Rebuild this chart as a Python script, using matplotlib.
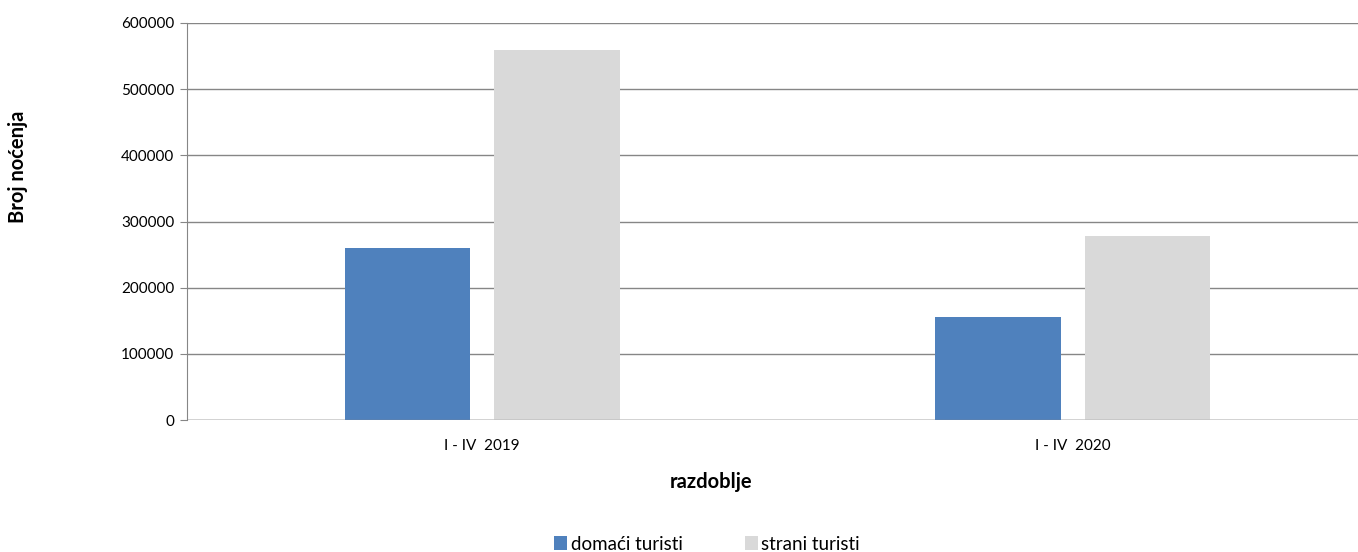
import numpy as np
import matplotlib
matplotlib.use("Agg")
import matplotlib.pyplot as plt
from matplotlib.patches import Patch

periods = ["I - IV  2019", "I - IV  2020"]
domaci = [259500, 155000]
strani = [559500, 278000]
series_names = ["domaći turisti", "strani turisti"]
colors = ["#4F81BD", "#D9D9D9"]

plt.rcParams['font.family'] = ['Lato', 'DejaVu Sans']

fig = plt.figure(figsize=(13.58, 5.52), dpi=100)
# plot area: x 187..1368 px, y 23..420 px
ax = fig.add_axes([187 / 1358, 1 - 420 / 552, 1181 / 1358, 397 / 552])

x = np.arange(len(periods))
w = 0.213
gap = 0.04
ax.bar(x - (w + gap) / 2, domaci, w, color=colors[0], zorder=3)
ax.bar(x + (w + gap) / 2, strani, w, color=colors[1], zorder=3)

ax.set_xlim(-0.5, 1.5)
ax.set_ylim(0, 600000)
ax.set_yticks(range(0, 600001, 100000))
ax.yaxis.set_major_formatter(matplotlib.ticker.FuncFormatter(lambda v, p: f"{int(v)}"))
ax.set_xticks(x)
ax.set_xticklabels(periods)
ax.grid(axis='y', color='#868686', linewidth=1.0, zorder=0)
for s in ['top', 'right', 'bottom']:
    ax.spines[s].set_visible(False)
ax.spines['left'].set_color('#868686')
ax.axhline(0, color='#868686', linewidth=1.0, zorder=4)
ax.tick_params(axis='y', length=5, color='#868686', labelsize=11, pad=4)
ax.tick_params(axis='x', length=0, labelsize=11, pad=14)

fig.text(18 / 1358, 1 - 167 / 552, "Broj noćenja", rotation=90, ha='center', va='center',
         fontsize=14.5, fontweight='bold')
fig.text(711 / 1358, 1 - 482 / 552, "razdoblje", ha='center', va='center',
         fontsize=14.5, fontweight='bold')

handles = [Patch(facecolor=c, edgecolor='none') for c in colors]
fig.legend(handles, series_names, loc='center', bbox_to_anchor=(707 / 1358, 1 - 544 / 552),
           ncol=2, frameon=False, fontsize=13.5, handlelength=0.7, handleheight=0.7,
           handletextpad=0.2, columnspacing=3.3)

fig.savefig("out.png", dpi=100)
